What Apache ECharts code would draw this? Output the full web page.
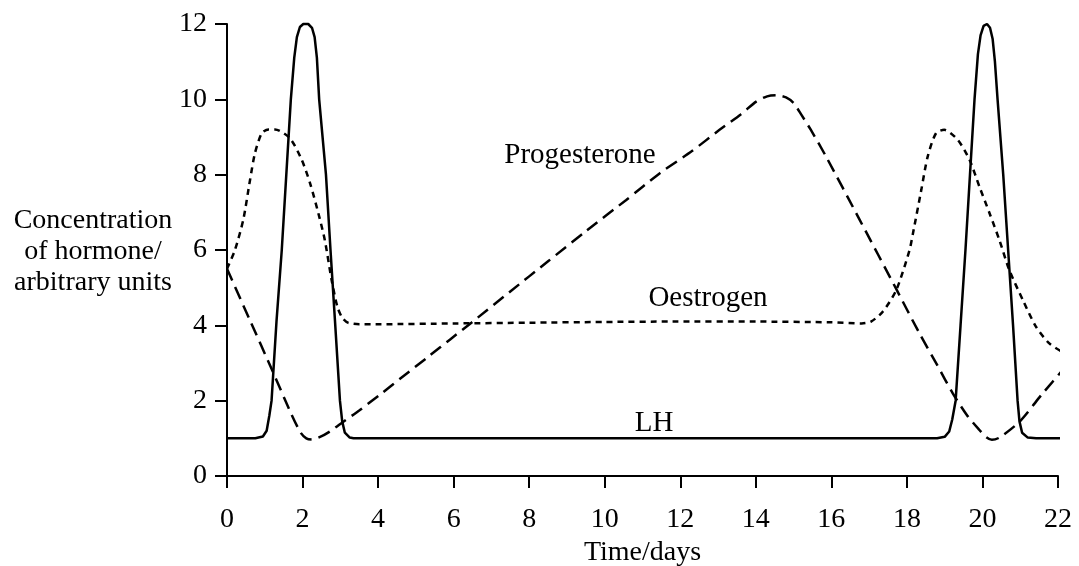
<!DOCTYPE html>
<html>
<head>
<meta charset="utf-8">
<script src="https://cdn.jsdelivr.net/npm/echarts@6/dist/echarts.min.js"></script>
<style>
  html, body { margin: 0; padding: 0; background: #fff; }
  #chart { width: 1079px; height: 566px; }
</style>
</head>
<body>
<div id="chart"></div>
<script>
// [day, concentration]
const lhData = [
  [0, 1], [0.75, 1], [0.95, 1.05], [1.05, 1.2], [1.12, 1.6], [1.18, 2.0], [1.31, 4.1],
  [1.45, 6], [1.57, 8], [1.69, 10], [1.78, 11.1], [1.85, 11.65], [1.93, 11.92], [2.02, 12.0],
  [2.15, 12.0], [2.25, 11.9], [2.32, 11.65], [2.38, 11.1], [2.44, 10], [2.62, 8], [2.74, 6],
  [2.86, 4.1], [2.99, 2.0], [3.05, 1.45], [3.12, 1.15], [3.25, 1.02], [3.35, 1],
  [18.8, 1], [19.0, 1.04], [19.12, 1.18], [19.2, 1.5], [19.29, 2.0], [19.42, 4],
  [19.55, 6], [19.67, 8], [19.79, 10], [19.88, 11.2], [19.95, 11.7], [20.03, 11.95],
  [20.12, 12.0], [20.2, 11.9], [20.27, 11.6], [20.33, 11.0], [20.4, 10], [20.55, 8],
  [20.68, 6], [20.81, 4], [20.93, 2], [20.98, 1.45], [21.05, 1.15], [21.2, 1.02],
  [21.42, 1], [22.08, 1]
];

const oestrogenData = [
  [0, 5.5], [0.21, 6.0], [0.43, 6.8], [0.61, 7.86], [0.74, 8.57], [0.92, 9.1],
  [1.1, 9.2], [1.27, 9.2], [1.67, 8.96], [1.98, 8.39], [2.2, 7.77], [2.42, 6.97],
  [2.59, 6.26], [2.77, 5.2], [2.92, 4.5], [3.05, 4.2], [3.2, 4.07], [3.5, 4.03],
  [4.05, 4.03], [6, 4.05], [8, 4.07], [10, 4.09], [11.8, 4.1], [14, 4.1],
  [16, 4.08], [16.8, 4.05], [17.05, 4.1], [17.36, 4.36], [17.72, 4.94], [18.07, 6.0],
  [18.16, 6.44], [18.38, 7.59], [18.55, 8.48], [18.77, 9.1], [18.99, 9.19],
  [19.35, 8.92], [19.66, 8.39], [19.92, 7.68], [20.19, 6.97], [20.45, 6.26],
  [20.71, 5.47], [21.07, 4.67], [21.42, 3.96], [21.77, 3.52], [22.17, 3.26]
];

const progesteroneData = [
  [0, 5.5], [0.6, 4.15], [1.2, 2.8], [1.7, 1.65], [1.95, 1.15], [2.1, 1.0],
  [2.25, 0.97], [2.45, 1.03], [2.72, 1.18], [3.08, 1.44], [3.5, 1.74], [4.05, 2.16],
  [4.58, 2.58], [5.37, 3.2], [5.9, 3.62], [6.47, 4.07], [7.5, 4.9], [8.5, 5.7],
  [9.5, 6.5], [10.57, 7.33], [11.46, 8.04], [12.3, 8.62], [13.04, 9.19], [13.6, 9.6],
  [14.01, 9.94], [14.3, 10.08], [14.54, 10.11], [14.8, 10.05], [15.0, 9.9],
  [15.2, 9.6], [15.45, 9.2], [15.86, 8.48], [16.75, 6.8], [17.72, 4.96], [18.33, 3.79],
  [18.8, 2.95], [19.21, 2.2], [19.6, 1.6], [19.92, 1.22], [20.1, 1.03], [20.25, 0.96],
  [20.45, 1.02], [20.98, 1.44], [21.6, 2.2], [22.2, 2.9]
];

const font = 'Liberation Serif';

const chart = echarts.init(document.getElementById('chart'));

const axisCommon = {
  type: 'value',
  interval: 2,
  splitLine: { show: false },
  axisLine: { show: true, lineStyle: { color: '#000', width: 2 } },
  axisTick: { show: true, length: 12, lineStyle: { color: '#000', width: 2 } },
  axisLabel: { color: '#000', fontFamily: font, fontSize: 28 }
};

const option = {
  animation: false,
  grid: { left: 227, right: 21, top: 24, bottom: 90, outerBoundsMode: 'none', containLabel: false },
  xAxis: {
    ...axisCommon,
    min: 0,
    max: 22,
    axisLabel: { ...axisCommon.axisLabel, margin: 30 },
    name: 'Time/days',
    nameLocation: 'middle',
    nameGap: 60,
    nameTextStyle: { color: '#000', fontFamily: font, fontSize: 28 }
  },
  yAxis: {
    ...axisCommon,
    min: 0,
    max: 12,
    axisLabel: { ...axisCommon.axisLabel, margin: 20 }
  },
  series: [
    {
      name: 'LH',
      type: 'line',
      data: lhData,
      showSymbol: false,
      clip: false,
      lineStyle: { color: '#000', width: 2.5 }
    },
    {
      name: 'Oestrogen',
      type: 'line',
      data: oestrogenData,
      showSymbol: false,
      smooth: 0.25,
      clip: false,
      lineStyle: { color: '#000', width: 2.5, type: [6, 5] }
    },
    {
      name: 'Progesterone',
      type: 'line',
      data: progesteroneData,
      showSymbol: false,
      smooth: 0.25,
      clip: false,
      lineStyle: { color: '#000', width: 2.5, type: [13, 7] }
    }
  ],
  graphic: [
    {
      type: 'text', x: 93, y: 252,
      style: {
        text: 'Concentration\nof hormone/\narbitrary units',
        font: '28px "Liberation Serif"', fill: '#000',
        align: 'center', verticalAlign: 'middle', lineHeight: 31
      }
    },
    { type: 'text', x: 580, y: 155, style: { text: 'Progesterone', font: '29px "Liberation Serif"', fill: '#000', align: 'center', verticalAlign: 'middle' } },
    { type: 'text', x: 708, y: 298, style: { text: 'Oestrogen', font: '29px "Liberation Serif"', fill: '#000', align: 'center', verticalAlign: 'middle' } },
    { type: 'text', x: 654, y: 423, style: { text: 'LH', font: '29px "Liberation Serif"', fill: '#000', align: 'center', verticalAlign: 'middle' } }
  ]
};

chart.setOption(option);
</script>
</body>
</html>
